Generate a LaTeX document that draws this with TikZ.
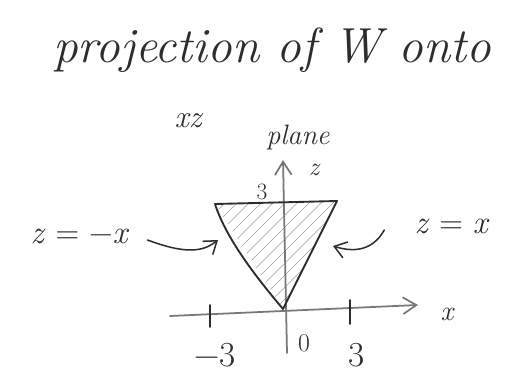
\documentclass[tikz,border=0pt]{standalone}
\usepackage{amsmath}
\usepackage{xcolor}
\usepackage{tikz}
\usetikzlibrary{arrows.meta, calc}
\definecolor{penink}{RGB}{45, 45, 45}
\definecolor{pengrey}{RGB}{120, 120, 120}

\begin{document}
\begin{tikzpicture}[x=0.03cm, y=-0.03cm,
        pen/.style={draw=penink, line width=1.6pt, line cap=round, line join=round},
        axis/.style={draw=pengrey, line width=1.5pt, line cap=round, -{Straight Barb[length=4mm, width=5mm]}},
        hand/.style={text=penink, inner sep=0pt},
        line/.style={draw=penink, line width=1.3pt, line cap=round, -{Straight Barb[length=3.5mm, width=5mm]}}]

        \useasboundingbox (0,0) rectangle (509,375);

        % Points
        \coordinate (origin) at (283,309);
        \coordinate (topleft) at (215,204);
        \coordinate (topright) at (337,201);
        \coordinate (xstart) at (170,316);
        \coordinate (xend) at (418,305);
        \coordinate (zstart) at (287,353);
        \coordinate (zend) at (283,160);
        \coordinate (hitleft) at (218,240);
        \coordinate (hitright) at (333,246);

        % Hatching
        \begin{scope}
            \clip (origin) -- (topleft) -- (topright) -- cycle;
            \foreach \h in {60,72,...,400}
                \draw[pengrey!70, line width=0.5pt] (\h,320) -- ({\h+130},190);
        \end{scope}

        % Axes
        \path [axis] (xstart) -- (xend);
        \path [axis] (zstart) -- (zend);
        \draw [pen] (210,305) -- (210,327);
        \draw [pen] (350,300) -- (350,324);

        % Region
        \draw [pen] (origin) .. controls (250,270) and (225,235) .. (topleft) -- (topright) -- cycle;

        % Labels
        \node [hand, font=\fontsize{42}{44}\selectfont\itshape] (title) at (272,50) {projection of W onto};
        \node [hand, font=\fontsize{27}{29}\selectfont\itshape] (xz) at (188,121) {xz};
        \node [hand, font=\fontsize{24}{26}\selectfont\itshape] (plane) at (298,137) {plane};
        \node [hand, font=\fontsize{22}{24}\selectfont\itshape] (zlab) at (314,170) {z};
        \node [hand, font=\fontsize{20}{22}\selectfont] (ztick) at (262,192) {3};
        \node [hand, font=\fontsize{24}{26}\selectfont\itshape] (xlab) at (447,314) {x};
        \node [hand, font=\fontsize{22}{24}\selectfont] (zero) at (304,343) {0};
        \node [hand, font=\fontsize{30}{32}\selectfont] (mthree) at (215,355) {−3};
        \node [hand, font=\fontsize{30}{32}\selectfont] (three) at (357,355) {3};
        \node [hand, font=\fontsize{28}{30}\selectfont] (zmx) at (80,236) {\textit{z} = −\textit{x}};
        \node [hand, font=\fontsize{28}{30}\selectfont] (zx) at (452,226) {\textit{z} = \textit{x}};

        % Arrows
        \path [line] (zmx.east) ++(18,4) .. controls (190,256) and (205,250) .. (hitleft);
        \path [line] (zx.west) ++(-30,4) .. controls (372,252) and (352,252) .. (hitright);
    \end{tikzpicture}
\end{document}
